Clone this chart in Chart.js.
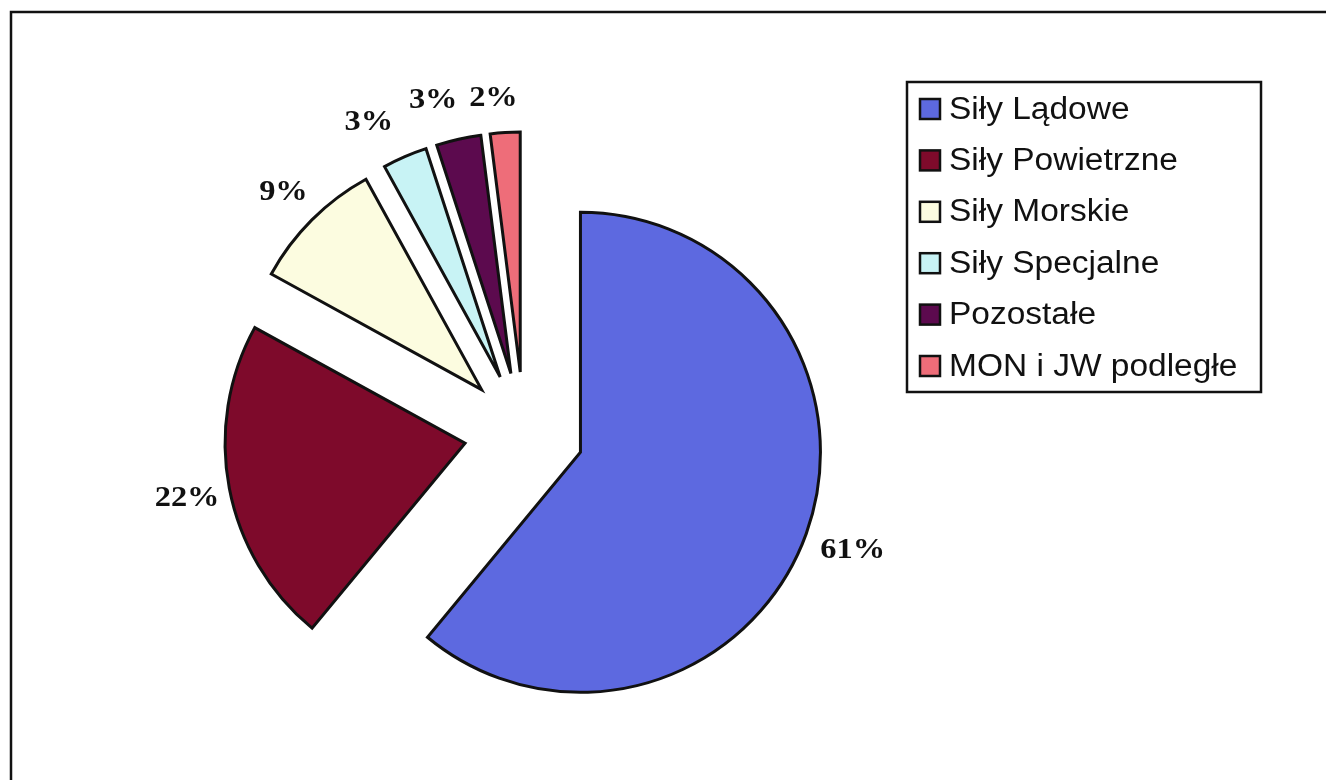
<!DOCTYPE html>
<html lang="pl">
<head>
    <meta charset="UTF-8">
    <title>Struktura wydatków</title>
    <script src="https://cdn.jsdelivr.net/npm/chart.js"></script>
    <style>
        body { margin: 0; background: #fff; }
        #wrap { width: 1326px; height: 780px; position: relative; }
    </style>
</head>
<body>
    <div id="wrap"><canvas id="pieChart"></canvas></div>

    <script>
        // Data
        const categories = ['Siły Lądowe', 'Siły Powietrzne', 'Siły Morskie', 'Siły Specjalne', 'Pozostałe', 'MON i JW podległe'];
        const shares = [61, 22, 9, 3, 3, 2];
        const sliceColors = ['#5D69E0', '#7E0A2B', '#FCFCE0', '#C8F3F5', '#5C0A4E', '#EE6D79'];

        // Look
        const EXPLODE = 60;          // how far every slice is pulled out
        const LABEL_DIST = 283;      // label distance from the pulled-out slice centre
        const TEXT_STRETCH = 1.08;   // text is drawn slightly wide
        const labelNudge = [[6, 2], [0, 2], [2, 3], [-19, 5], [-16, 3], [-9, 9]];

        function wideText(ctx, text, x, y) {
            ctx.save();
            ctx.translate(x, y);
            ctx.scale(TEXT_STRETCH, 1);
            ctx.fillText(text, 0, 0);
            ctx.restore();
        }

        // Pull each slice out along its bisector, then let the arc draw itself
        const explodePlugin = {
            id: 'explode',
            beforeDatasetDraw(chart, args) {
                const ctx = chart.ctx;
                args.meta.data.forEach(arc => {
                    const mid = (arc.startAngle + arc.endAngle) / 2;
                    ctx.save();
                    ctx.translate(Math.cos(mid) * EXPLODE, Math.sin(mid) * EXPLODE);
                    arc.draw(ctx, chart.chartArea);
                    ctx.restore();
                });
                return false;
            }
        };

        // Outer frame + percentage labels + legend box
        const decorPlugin = {
            id: 'decor',
            beforeDraw(chart) {
                const ctx = chart.ctx;
                ctx.save();
                ctx.strokeStyle = '#111';
                ctx.lineWidth = 2.5;
                ctx.strokeRect(11, 12, 1400, 900);
                ctx.restore();
            },
            afterDraw(chart) {
                const ctx = chart.ctx;
                const meta = chart.getDatasetMeta(0);
                ctx.save();
                ctx.fillStyle = '#111';
                ctx.font = 'bold 30px "Liberation Serif", "Times New Roman", serif';
                ctx.textAlign = 'center';
                ctx.textBaseline = 'middle';
                meta.data.forEach((arc, i) => {
                    const mid = (arc.startAngle + arc.endAngle) / 2;
                    const d = EXPLODE + LABEL_DIST;
                    const x = arc.x + Math.cos(mid) * d + labelNudge[i][0];
                    const y = arc.y + Math.sin(mid) * d + labelNudge[i][1];
                    wideText(ctx, shares[i] + '%', x, y);
                });

                // legend
                const box = { left: 907, top: 82, right: 1261, bottom: 392 };
                ctx.lineWidth = 2.5;
                ctx.strokeStyle = '#111';
                ctx.strokeRect(box.left, box.top, box.right - box.left, box.bottom - box.top);
                ctx.font = '31px "Liberation Sans", Arial, sans-serif';
                ctx.textAlign = 'left';
                categories.forEach((name, i) => {
                    const cy = 109 + i * 51.4;
                    ctx.fillStyle = sliceColors[i];
                    ctx.fillRect(920, cy - 10, 20, 20);
                    ctx.lineWidth = 2.5;
                    ctx.strokeRect(920, cy - 10, 20, 20);
                    ctx.fillStyle = '#111';
                    wideText(ctx, name, 949, cy + 1);
                });
                ctx.restore();
            }
        };

        new Chart(document.getElementById('pieChart'), {
            type: 'pie',
            data: {
                labels: categories,
                datasets: [{
                    data: shares,
                    backgroundColor: sliceColors,
                    borderColor: '#111',
                    borderWidth: 3,
                    borderJoinStyle: 'miter'
                }]
            },
            options: {
                responsive: true,
                maintainAspectRatio: false,
                animation: false,
                events: [],
                radius: 240,
                layout: { padding: { left: 0, right: 278, top: 84, bottom: 0 } },
                plugins: {
                    legend: { display: false },
                    tooltip: { enabled: false }
                }
            },
            plugins: [explodePlugin, decorPlugin]
        });
    </script>
</body>
</html>
